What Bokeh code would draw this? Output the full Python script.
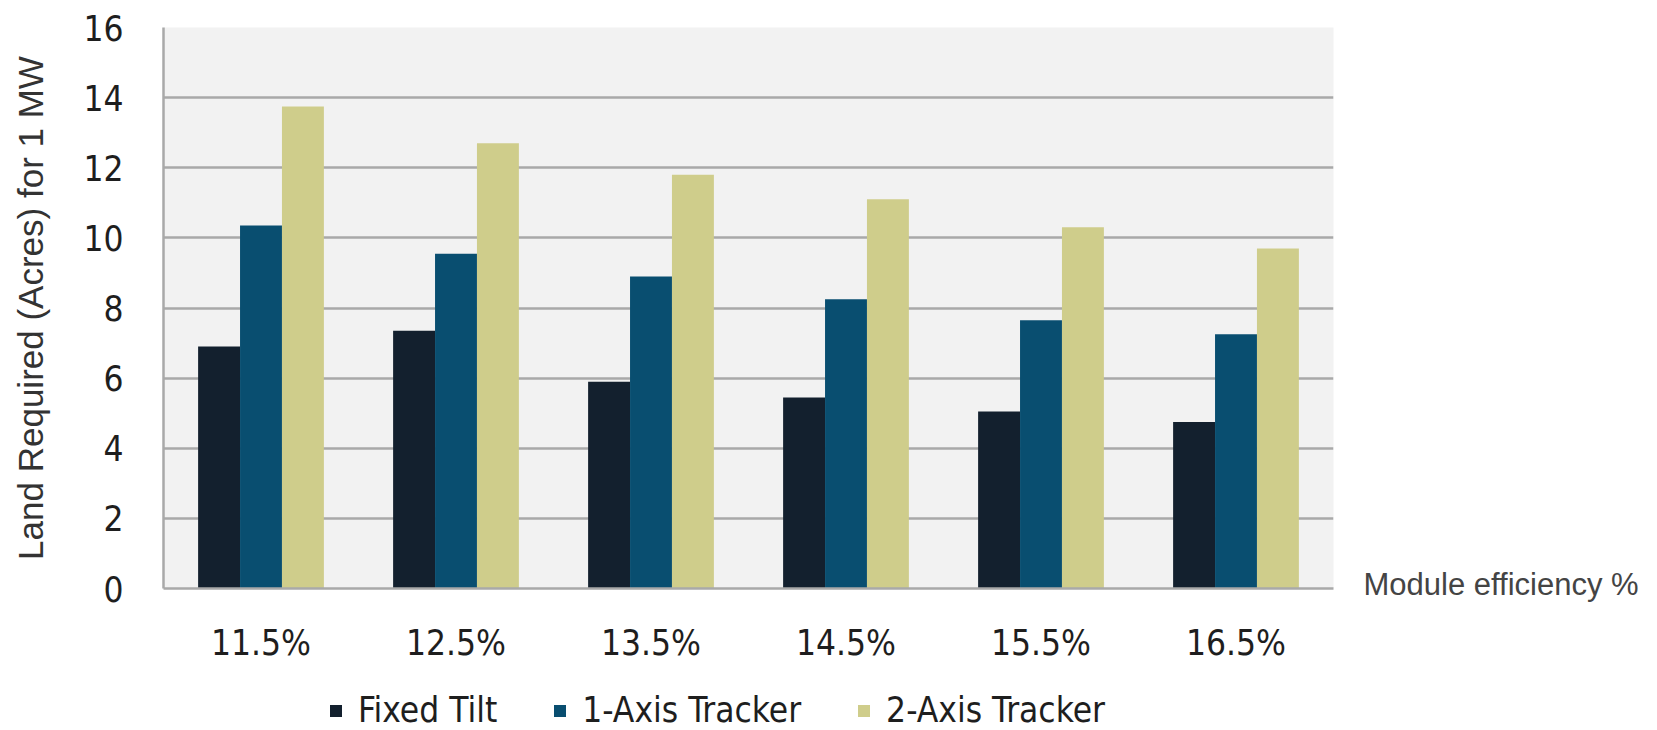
from bokeh.plotting import figure
from bokeh.layouts import column
from bokeh.models import (ColumnDataSource, FactorRange, Legend, LegendItem, FixedTicker,
                          LinearAxis, Range1d)
from bokeh.transform import dodge
from bokeh.embed import file_html
from bokeh.resources import INLINE

# ---- data ----
categories = ["11.5%", "12.5%", "13.5%", "14.5%", "15.5%", "16.5%"]
fixed_tilt = [6.9, 7.35, 5.9, 5.45, 5.05, 4.75]
one_axis = [10.35, 9.55, 8.9, 8.25, 7.65, 7.25]
two_axis = [13.75, 12.7, 11.8, 11.1, 10.3, 9.7]
series_names = ["Fixed Tilt", "1-Axis Tracker", "2-Axis Tracker"]
y_ticks = [0, 2, 4, 6, 8, 10, 12, 14, 16]
y_title = "Land Required (Acres) for 1 MW"
x_note = "Module efficiency %"

colors = ["#13202e", "#094e70", "#cfcd8b"]
COND = "DejaVu Sans Condensed, Roboto"
GRID = "#a9a9a9"

src = ColumnDataSource(dict(cat=categories, ft=fixed_tilt, oa=one_axis, ta=two_axis))

W = 1649
p = figure(x_range=FactorRange(*categories), y_range=(0, 16),
           width=W, height=686, output_backend="svg", toolbar_location=None,
           min_border_left=163, min_border_right=316, min_border_top=27, min_border_bottom=98)
p.x_range.range_padding = 0
p.background_fill_color = "#f2f2f2"
p.border_fill_color = "white"
p.outline_line_color = None

bw = 0.215
r1 = p.vbar(x=dodge("cat", -bw, range=p.x_range), top="ft", width=bw, source=src,
            fill_color=colors[0], line_color=None)
r2 = p.vbar(x=dodge("cat", 0, range=p.x_range), top="oa", width=bw, source=src,
            fill_color=colors[1], line_color=None)
r3 = p.vbar(x=dodge("cat", bw, range=p.x_range), top="ta", width=bw, source=src,
            fill_color=colors[2], line_color=None)

# grid
p.xgrid.grid_line_color = None
p.ygrid.ticker = FixedTicker(ticks=y_ticks)
p.ygrid.grid_line_color = GRID
p.ygrid.grid_line_width = 2.5

# y axis
p.yaxis.ticker = FixedTicker(ticks=y_ticks)
p.yaxis.axis_label = y_title
p.yaxis.axis_label_text_font = "Liberation Sans"
p.yaxis.axis_label_text_font_size = "35px"
p.yaxis.axis_label_text_font_style = "normal"
p.yaxis.axis_label_text_color = "#333333"
p.yaxis.axis_label_standoff = 30
p.yaxis.major_label_text_font = COND
p.yaxis.major_label_text_font_size = "35px"
p.yaxis.major_label_text_color = "#1e1e1e"
p.yaxis.major_label_standoff = 34
p.yaxis.axis_line_color = GRID
p.yaxis.axis_line_width = 2.5
p.yaxis.major_tick_line_color = None
p.yaxis.minor_tick_line_color = None

# x axis
p.xaxis.major_label_text_font = COND
p.xaxis.major_label_text_font_size = "35px"
p.xaxis.major_label_text_color = "#1e1e1e"
p.xaxis.major_label_standoff = 28
p.xaxis.axis_line_color = GRID
p.xaxis.axis_line_width = 2.5
p.xaxis.major_tick_line_color = None
p.xaxis.minor_tick_line_color = None

# note at the right end of the x axis: a single tick label of an invisible right axis
note_axis = LinearAxis(ticker=FixedTicker(ticks=[0.1]),
                       major_label_overrides={0.1: x_note},
                       major_label_standoff=24,
                       major_label_text_font="Liberation Sans",
                       major_label_text_font_size="31px",
                       major_label_text_color="#444444",
                       axis_line_color=None, major_tick_line_color=None,
                       minor_tick_line_color=None)
p.add_layout(note_axis, "right")

# legend strip below the chart
lg = figure(width=W, height=44, x_range=Range1d(0, 1), y_range=Range1d(0, 1),
            output_backend="svg", toolbar_location=None,
            x_axis_location=None, y_axis_location=None,
            min_border_left=0, min_border_right=0, min_border_top=0, min_border_bottom=0)
lg.outline_line_color = None
lg.background_fill_color = "white"
lg.border_fill_color = "white"
lg.grid.grid_line_color = None
# zero-size handles that only carry the legend colours
h1 = lg.vbar(x=[0], top=[0], width=0, fill_color=colors[0], line_color=None)
h2 = lg.vbar(x=[0], top=[0], width=0, fill_color=colors[1], line_color=None)
h3 = lg.vbar(x=[0], top=[0], width=0, fill_color=colors[2], line_color=None)

legend = Legend(items=[LegendItem(label=series_names[0], renderers=[h1]),
                       LegendItem(label=series_names[1], renderers=[h2]),
                       LegendItem(label=series_names[2], renderers=[h3])],
                orientation="horizontal", location=(165, 0),
                padding=0, margin=0, spacing=55, label_standoff=15,
                glyph_width=15, glyph_height=15,
                background_fill_alpha=0, border_line_color=None,
                label_text_font=COND, label_text_font_size="35px",
                label_text_color="#1e1e1e")
lg.add_layout(legend, "center")

layout = column(p, lg, spacing=0)
open("out.html", "w").write(file_html(layout, INLINE))
